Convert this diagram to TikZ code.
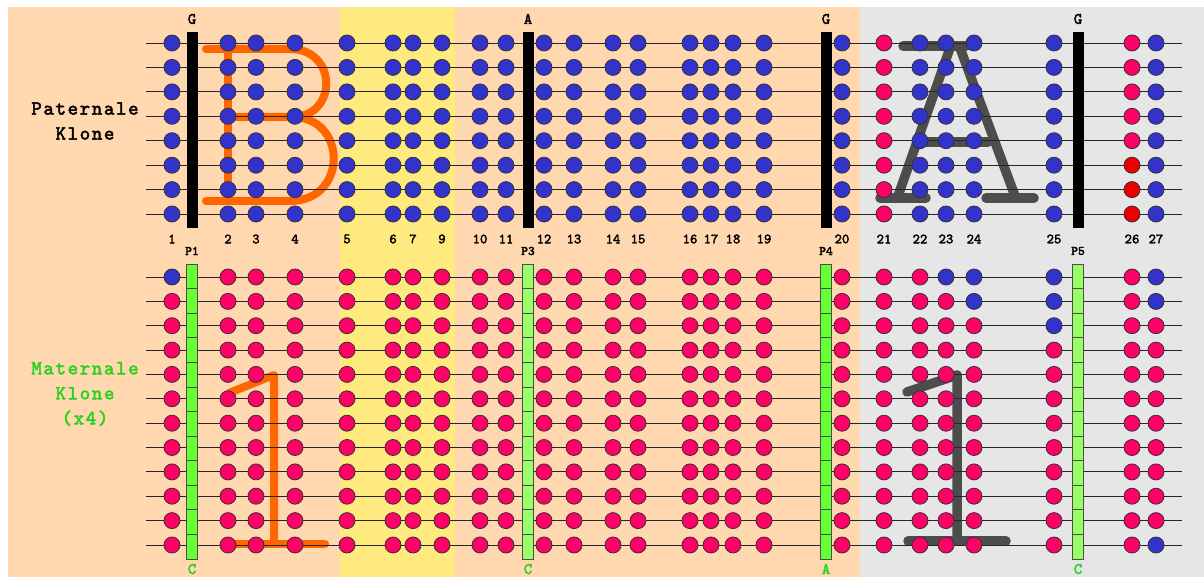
\documentclass[tikz,border=0pt]{standalone}
\usepackage{fontspec}
\newfontfamily\cour[FakeBold=2.5]{lmmono10-regular.otf}
\newfontfamily\courside[FakeBold=2.5,LetterSpace=8]{lmmono10-regular.otf}
\definecolor{beige}{RGB}{255,216,176}
\definecolor{yell}{RGB}{255,234,128}
\definecolor{grayb}{RGB}{230,230,230}
\definecolor{dblue}{RGB}{51,51,204}
\definecolor{dpink}{RGB}{255,0,102}
\definecolor{dred}{RGB}{235,0,0}
\definecolor{gbright}{RGB}{102,255,51}
\definecolor{glight}{RGB}{153,255,102}
\definecolor{gtext}{RGB}{40,210,30}
\definecolor{lorange}{RGB}{255,102,0}
\definecolor{lgray}{RGB}{77,77,77}
\newcommand\mytopcol[2]{%
  \def\dotc{dblue}%
  \ifnum#1=21 \def\dotc{dpink}\fi
  \ifnum#1=26 \ifnum#2>5 \def\dotc{dred}\else\def\dotc{dpink}\fi\fi}
\newcommand\mybotcol[2]{%
  \def\dotc{dpink}%
  \ifnum#1=1 \ifnum#2=1 \def\dotc{dblue}\fi\fi
  \ifnum#1=23 \ifnum#2=1 \def\dotc{dblue}\fi\fi
  \ifnum#1=24 \ifnum#2<3 \def\dotc{dblue}\fi\fi
  \ifnum#1=25 \ifnum#2<4 \def\dotc{dblue}\fi\fi
  \ifnum#1=27 \ifnum#2<3 \def\dotc{dblue}\fi\ifnum#2=12 \def\dotc{dblue}\fi\fi}
\tikzset{
  dot/.style={circle, minimum size=16pt, inner sep=0pt, draw=black!80, line width=0.8pt},
  wire/.style={draw=black!85, line width=0.9pt},
  blackbar/.style={rectangle, fill=black, minimum width=11pt, minimum height=196pt, inner sep=0pt},
  greenseg/.style={rectangle, draw=black!70, line width=0.8pt, minimum width=11pt, minimum height=24.58pt, inner sep=0pt},
  numlab/.style={font=\cour\fontsize{14}{14}\selectfont, inner sep=0pt},
  baselab/.style={font=\cour\fontsize{16}{16}\selectfont, inner sep=0pt},
  plab/.style={font=\cour\fontsize{13}{13}\selectfont, inner sep=0pt},
  sidelab/.style={font=\courside\fontsize{20}{25}\selectfont, align=center, inner sep=0pt},
  letterO/.style={draw=lorange, line width=8pt, line cap=round, line join=round},
  letterG/.style={draw=lgray, line width=9.5pt, line cap=round, line join=round},
}
\begin{document}
\begin{tikzpicture}[x=1pt,y=-1pt]
\useasboundingbox (0,0) rectangle (1204,577);
% backgrounds
\fill[white] (0,0) rectangle (1204,577);
\fill[beige] (8,7) rectangle (340,577);
\fill[yell] (340,7) rectangle (455,577);
\fill[beige] (455,7) rectangle (860,577);
\fill[grayb] (860,7) rectangle (1204,577);
% overlay letters
\draw[letterO] (206,49) -- (290,49) .. controls (338,49) and (338,117) .. (292,117) -- (228,117);
\draw[letterO] (292,117) .. controls (348,117) and (348,201) .. (290,201) -- (206,201);
\draw[letterO] (228,49) -- (228,201);
\draw[letterO] (229,393) -- (274,375) -- (274,543);
\draw[letterO] (235,544) -- (325,544);
\draw[letterG] (903,46) -- (966,46);
\draw[letterG] (950,48) -- (898,196);
\draw[letterG] (960,48) -- (1015,196);
\draw[letterG] (920,142) -- (988,142);
\draw[letterG] (880,198) -- (926,198);
\draw[letterG] (986,198) -- (1034,198);
\draw[letterG] (907,392) -- (957,375) -- (957,541);
\draw[letterG] (908,541) -- (1006,541);
% side labels
\node[sidelab] (pat) at (85,121) {Paternale\\Klone};
\node[sidelab, text=gtext] (mat) at (85,394) {Maternale\\Klone\\(x4)};
% wires
\foreach \y [count=\r] in {43,67.4,91.9,116.3,140.7,165.2,189.6,214} {
  \coordinate (tl\r) at (146,\y);
  \coordinate (tr\r) at (1182,\y);
  \draw[wire] (tl\r) -- (tr\r);
}
\foreach \y [count=\r] in {277,301.4,325.7,350.1,374.4,398.8,423.2,447.5,471.9,496.2,520.6,545} {
  \coordinate (bl\r) at (146,\y);
  \coordinate (br\r) at (1182,\y);
  \draw[wire] (bl\r) -- (br\r);
}
% bars
\foreach \x/\n/\tl/\bl/\gc in {192/P1/G/C/gbright, 528/P3/A/C/glight, 826/P4/G/A/gbright, 1078/P5/G/C/glight} {
  \node[blackbar] (bar\n) at (\x,130) {};
  \node[baselab] (top\n) at (\x,19) {\tl};
  \node[plab] (lab\n) at (\x,251) {\n};
  \node[baselab, text=gtext] (bot\n) at (\x,569) {\bl};
  \foreach \j in {1,...,12} {
    \node[greenseg, fill=\gc] (g\n-\j) at (\x,{264+(\j-0.5)*24.58}) {};
  }
}
% dots and numbers
\foreach \x/\l in {172/1,228/2,256/3,295/4,347/5,393/6,413/7,442/9,480/10,506/11,544/12,574/13,613/14,638/15,690/16,711/17,733/18,764/19,842/20,884/21,920/22,946/23,974/24,1054/25,1132/26,1156/27} {
  \node[numlab] (n\l) at (\x,239) {\l};
  \foreach \y [count=\r] in {43,67.4,91.9,116.3,140.7,165.2,189.6,214} {
    \mytopcol{\l}{\r}
    \node[dot, fill=\dotc] (t\l-\r) at (\x,\y) {};
  }
  \foreach \y [count=\r] in {277,301.4,325.7,350.1,374.4,398.8,423.2,447.5,471.9,496.2,520.6,545} {
    \mybotcol{\l}{\r}
    \node[dot, fill=\dotc] (b\l-\r) at (\x,\y) {};
  }
}
\end{tikzpicture}
\end{document}
